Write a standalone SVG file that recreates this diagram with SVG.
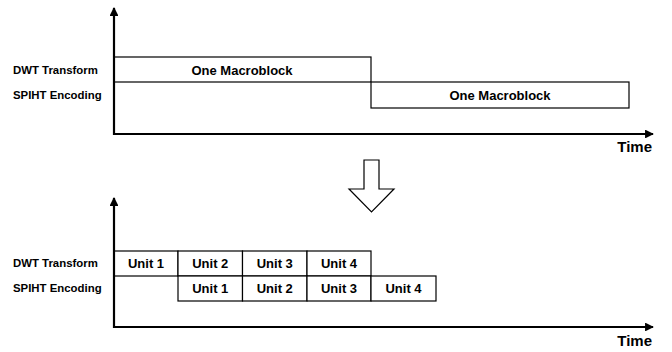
<svg xmlns="http://www.w3.org/2000/svg" width="672" height="352" viewBox="0 0 672 352">
<style>
text{font-family:"Liberation Sans",Arial,sans-serif;font-weight:bold;fill:#000}
.lbl{font-size:11.4px}
.box{fill:#fff;stroke:#000;stroke-width:1.2}
.bt{font-size:13px;text-anchor:middle}
.time{font-size:15px;text-anchor:end}
.axis{stroke:#000;stroke-width:2.2;fill:none}
</style>
<defs>
<marker id="ah" viewBox="0 0 10 10" refX="9" refY="5" markerWidth="4" markerHeight="4" orient="auto" markerUnits="strokeWidth">
<path d="M0,0 L10,5 L0,10 z" fill="#000"/>
</marker>
</defs>
<rect width="672" height="352" fill="#fff"/>

<g id="top-labels">
<text class="lbl" x="13" y="74">DWT Transform</text>
<text class="lbl" x="13" y="99">SPIHT Encoding</text>
</g>
<g id="top-dwt">
<rect class="box" x="114" y="57" width="257" height="25"/>
<text class="bt" x="242" y="74.5">One Macroblock</text>
</g>
<g id="top-spiht">
<rect class="box" x="371" y="82" width="258" height="26"/>
<text class="bt" x="500" y="100">One Macroblock</text>
</g>

<g id="bottom-labels">
<text class="lbl" x="13" y="267">DWT Transform</text>
<text class="lbl" x="13" y="292">SPIHT Encoding</text>
</g>
<g id="bottom-dwt">
<rect class="box" x="114" y="251" width="64" height="25"/>
<text class="bt" x="146" y="267.5">Unit 1</text>
<rect class="box" x="178" y="251" width="64.5" height="25"/>
<text class="bt" x="210.25" y="267.5">Unit 2</text>
<rect class="box" x="242.5" y="251" width="64.5" height="25"/>
<text class="bt" x="274.75" y="267.5">Unit 3</text>
<rect class="box" x="307" y="251" width="64" height="25"/>
<text class="bt" x="339" y="267.5">Unit 4</text>
</g>
<g id="bottom-spiht">
<rect class="box" x="178" y="276" width="64.5" height="25"/>
<text class="bt" x="210.25" y="292.5">Unit 1</text>
<rect class="box" x="242.5" y="276" width="64.5" height="25"/>
<text class="bt" x="274.75" y="292.5">Unit 2</text>
<rect class="box" x="307" y="276" width="64" height="25"/>
<text class="bt" x="339" y="292.5">Unit 3</text>
<rect class="box" x="371" y="276" width="65" height="25"/>
<text class="bt" x="403.5" y="292.5">Unit 4</text>
</g>

<g id="connectors">
<line class="axis" x1="114" y1="135" x2="114" y2="8" marker-end="url(#ah)"/>
<line class="axis" x1="113" y1="134" x2="653" y2="134" marker-end="url(#ah)"/>
<line class="axis" x1="114" y1="328" x2="114" y2="198" marker-end="url(#ah)"/>
<line class="axis" x1="113" y1="327" x2="653" y2="327" marker-end="url(#ah)"/>
<polygon points="364,160 379,160 379,189 394,189 371.5,212 349,189 364,189" fill="#fff" stroke="#000" stroke-width="1.2"/>
</g>

<g id="time-labels">
<text class="time" x="652" y="152">Time</text>
<text class="time" x="652" y="346">Time</text>
</g>
</svg>
